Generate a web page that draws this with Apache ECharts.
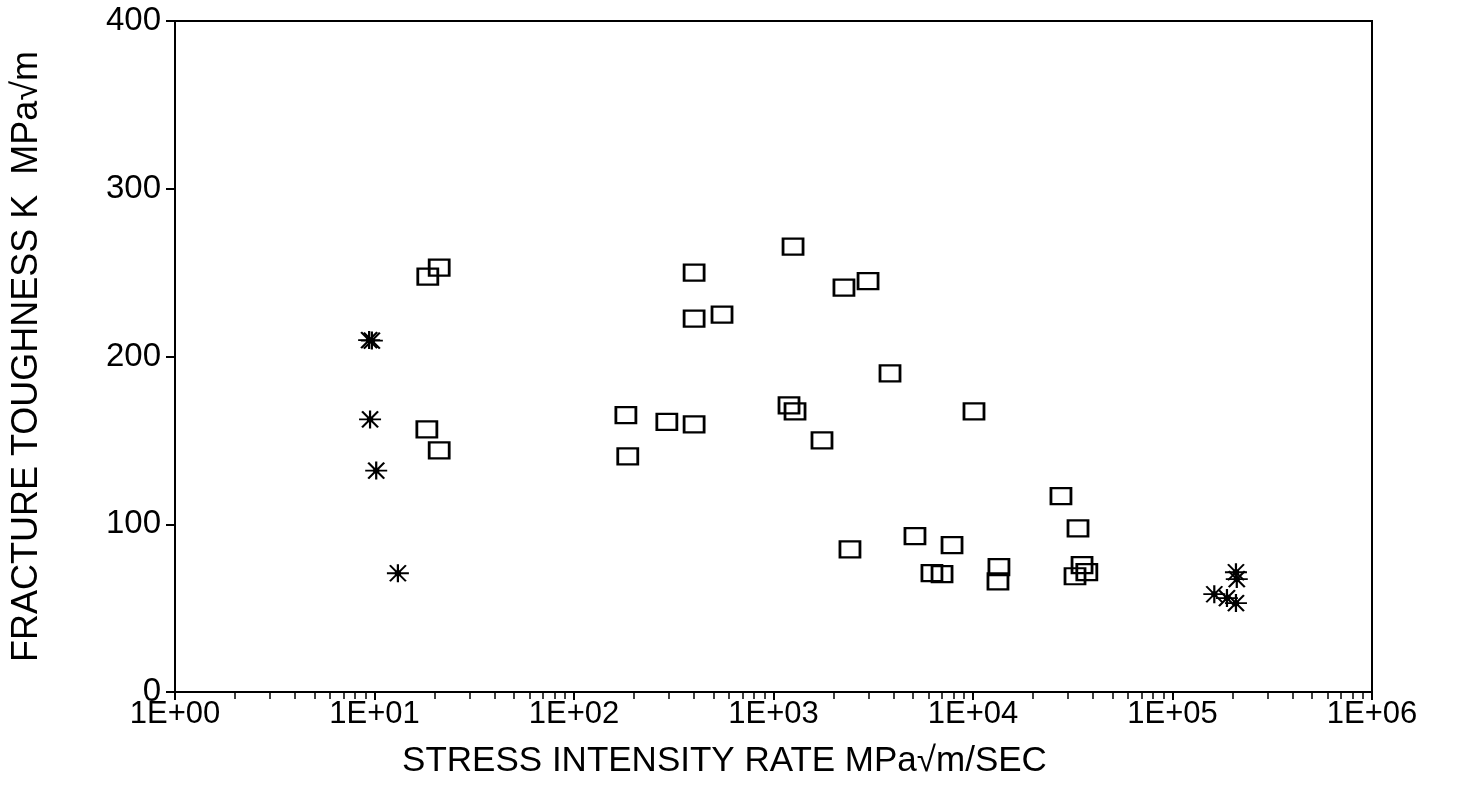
<!DOCTYPE html>
<html>
<head>
<meta charset="utf-8">
<script src="https://cdn.jsdelivr.net/npm/echarts@6/dist/echarts.min.js"></script>
<style>html,body{margin:0;padding:0;background:#fff}#c{width:1457px;height:804px}</style>
</head>
<body>
<div id="c"></div>
<script>
// Data (x: stress intensity rate, y: fracture toughness)
const squareRate = [18.5, 21.1, 18.3, 21.1, 182, 186, 292, 400, 400, 400, 552, 1253, 1196, 1282, 1750, 2255, 2978, 3837, 2417, 5118, 6226, 6995, 7850, 10115, 13490, 13340, 27600, 33600, 35200, 37200, 32460];
const squareK    = [247.6, 253, 156.5, 144, 165, 140.5, 161, 159.5, 250, 222.6, 225, 265.5, 170.8, 167.3, 150, 241, 245, 190, 85, 92.9, 70.8, 70.2, 87.5, 167.3, 74.4, 66, 116.7, 97.6, 75.6, 71.4, 69];
const starRate = [9.4, 9.7, 9.5, 10.2, 13.1, 208000, 210000, 162000, 187500, 208000];
const starK    = [209.8, 209.5, 162.5, 132, 70.8, 71.4, 67.3, 58.3, 56, 53];
const yTicks = [0, 100, 200, 300, 400];
const xDecades = [1, 10, 100, 1000, 10000, 100000, 1000000];
const xTickLabels = ['1E+00', '1E+01', '1E+02', '1E+03', '1E+04', '1E+05', '1E+06'];
const minorSteps = [2, 3, 4, 5, 6, 7, 8, 9];

const xMinor = [];
for (let d = 0; d < xDecades.length - 1; d++) {
  for (const m of minorSteps) xMinor.push(xDecades[d] * m);
}
const pair = (xs, ys) => xs.map((x, i) => [x, ys[i]]);

const FONT = 'Liberation Sans';
const chart = echarts.init(document.getElementById('c'), null, {renderer: 'canvas'});
const asterisk = 'path://M0,9L22,9M11,0L11,18M3,1L19,17M19,1L3,17M9,7L13,7L13,11L9,11Z';

chart.setOption({
  animation: false,
  backgroundColor: '#fff',
  grid: {left: 175, top: 21, right: 85, bottom: 112, show: true, borderColor: '#000', borderWidth: 2, backgroundColor: 'transparent'},
  xAxis: [{
    type: 'log', logBase: 10, min: 1, max: 1000000,
    axisLine: {lineStyle: {color: '#000', width: 2}},
    axisTick: {show: true, length: 8, lineStyle: {color: '#000', width: 2}, customValues: xDecades},
    axisLabel: {
      customValues: xDecades,
      color: '#000', fontFamily: FONT, fontSize: 31, margin: 7,
      formatter: v => xTickLabels[xDecades.findIndex(d => Math.abs(Math.log10(d) - Math.log10(v)) < 1e-6)]
    },
    splitLine: {show: false},
    name: 'STRESS INTENSITY RATE MPa√m/SEC',
    nameLocation: 'middle', nameGap: 52,
    nameTextStyle: {color: '#000', fontFamily: FONT, fontSize: 35, padding: [0, 98, 0, 0]}
  }, {
    type: 'log', logBase: 10, min: 1, max: 1000000, position: 'bottom',
    axisLine: {show: false},
    axisTick: {show: true, length: 7, lineStyle: {color: '#000', width: 1.5}, customValues: xMinor},
    axisLabel: {show: false},
    splitLine: {show: false}
  }],
  yAxis: {
    type: 'value', min: 0, max: 400, interval: 100,
    axisLine: {show: true, lineStyle: {color: '#000', width: 2}},
    axisTick: {show: true, length: 9, lineStyle: {color: '#000', width: 2}},
    axisLabel: {color: '#000', fontFamily: FONT, fontSize: 33, margin: 14,
      formatter: v => String(yTicks[yTicks.indexOf(v)])},
    splitLine: {show: false},
    name: 'FRACTURE TOUGHNESS K  MPa√m',
    nameLocation: 'middle', nameGap: 130, nameRotate: 90,
    nameTextStyle: {color: '#000', fontFamily: FONT, fontSize: 36}
  },
  series: [{
    type: 'scatter', xAxisIndex: 0,
    data: pair(squareRate, squareK),
    symbol: 'rect', symbolSize: [20, 16],
    itemStyle: {color: 'transparent', borderColor: '#000', borderWidth: 2.5, opacity: 1}
  }, {
    type: 'scatter', xAxisIndex: 0,
    data: pair(starRate, starK),
    symbol: asterisk, symbolSize: [22, 18],
    itemStyle: {color: '#000', borderColor: '#000', borderWidth: 2, opacity: 1}
  }]
});
</script>
</body>
</html>
